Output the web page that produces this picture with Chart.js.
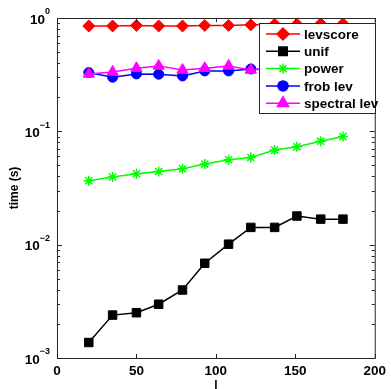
<!DOCTYPE html>
<html>
<head>
<meta charset="utf-8">
<script src="https://cdn.jsdelivr.net/npm/chart.js@4/dist/chart.umd.min.js"></script>
<style>
  body { margin: 0; background: #fff; }
  #wrap { width: 391px; height: 389px; position: relative; }
</style>
</head>
<body>
<div id="wrap"><canvas id="timing"></canvas></div>
<script>
// sample sizes l
const lValues = [20, 35, 50, 64, 79, 93, 108, 122, 137, 151, 166, 180];

// running time in seconds for each method
const levscore = [0.85, 0.85, 0.86, 0.85, 0.85, 0.86, 0.86, 0.87, 0.88, 0.88, 0.89, 0.89];
const unif = [0.00137, 0.00239, 0.00251, 0.00298, 0.00398, 0.00685, 0.0101, 0.0142, 0.0142, 0.0179, 0.0168, 0.0168];
const power = [0.0366, 0.0395, 0.0422, 0.0442, 0.0467, 0.0514, 0.0561, 0.0588, 0.0683, 0.0730, 0.0819, 0.0900];
const frobLev = [0.330, 0.300, 0.321, 0.319, 0.308, 0.341, 0.341, 0.355, 0.35, 0.36, 0.35, 0.36];
const spectralLev = [0.321, 0.334, 0.360, 0.378, 0.348, 0.360, 0.378, 0.348, 0.36, 0.37, 0.36, 0.37];

const xTicks = [0, 50, 100, 150, 200];
const yDecades = [-3, -2, -1, 0];

const FONT = "'Liberation Sans', Arial, Helvetica, sans-serif";

function series(label, values, color, style, radius, order, extra) {
    return Object.assign({
        label: label,
        data: lValues.map((l, i) => ({ x: l, y: values[i] })),
        borderColor: color,
        backgroundColor: color,
        pointBackgroundColor: color,
        pointBorderColor: color,
        borderWidth: 1.5,
        pointStyle: style,
        pointRadius: radius,
        pointBorderWidth: 1,
        tension: 0,
        order: order // later series painted over earlier ones
    }, extra || {});
}

// box, inward ticks, superscript labels, titles and legend in the usual matlab look
const matlabFrame = {
    id: 'matlabFrame',
    afterDatasetsDraw(chart) {
        const ctx = chart.ctx;
        const a = chart.chartArea;
        const xs = chart.scales.x;
        const ys = chart.scales.y;
        ctx.save();
        ctx.strokeStyle = '#262626';
        ctx.lineWidth = 1;

        // frame
        ctx.strokeRect(a.left + 0.5, a.top + 0.5, a.right - a.left, a.bottom - a.top);

        ctx.beginPath();
        // x ticks, bottom and top
        xTicks.forEach(v => {
            const px = Math.round(xs.getPixelForValue(v)) + 0.5;
            ctx.moveTo(px, a.bottom); ctx.lineTo(px, a.bottom - 4);
            ctx.moveTo(px, a.top); ctx.lineTo(px, a.top + 4);
        });
        // y ticks, major and minor, left and right
        yDecades.forEach(e => {
            for (let m = 1; m <= 9; m++) {
                const v = m * Math.pow(10, e);
                if (v > 1) break;
                const py = Math.round(ys.getPixelForValue(v)) + 0.5;
                const len = m === 1 ? 5 : 3;
                ctx.moveTo(a.left, py); ctx.lineTo(a.left + len, py);
                ctx.moveTo(a.right, py); ctx.lineTo(a.right - len, py);
            }
        });
        ctx.stroke();

        // y tick labels 10^e
        ctx.fillStyle = '#000';
        ctx.textBaseline = 'middle';
        yDecades.forEach(e => {
            const py = ys.getPixelForValue(Math.pow(10, e));
            const expo = e < 0 ? '\u2212' + (-e) : String(e);
            ctx.font = 'bold 9px ' + FONT;
            const ew = ctx.measureText(expo).width;
            ctx.textAlign = 'right';
            ctx.fillText(expo, 50, py - 6);
            ctx.font = 'bold 13.5px ' + FONT;
            ctx.fillText('10', 50 - ew, py + 2);
        });

        // axis titles
        ctx.font = 'bold 12px ' + FONT;
        ctx.textAlign = 'center';
        ctx.fillText('l', (a.left + a.right) / 2, 386);
        ctx.save();
        ctx.translate(15, (a.top + a.bottom) / 2);
        ctx.rotate(-Math.PI / 2);
        ctx.fillText('time (s)', 0, 0);
        ctx.restore();

        // legend box
        const box = { x: 259, y: 23, w: 116, h: 90 };
        ctx.fillStyle = '#fff';
        ctx.fillRect(box.x, box.y, box.w, box.h);
        ctx.strokeStyle = '#262626';
        ctx.strokeRect(box.x + 0.5, box.y + 0.5, box.w, box.h);

        chart.data.datasets.forEach((ds, i) => {
            const ry = 34 + i * 17.3;
            ctx.strokeStyle = ds.borderColor;
            ctx.fillStyle = ds.borderColor;
            ctx.lineWidth = 1.5;
            ctx.beginPath();
            ctx.moveTo(266, ry); ctx.lineTo(300, ry);
            ctx.stroke();
            Chart.helpers.drawPoint(ctx, {
                pointStyle: ds.pointStyle,
                radius: ds.pointRadius,
                rotation: 0,
                borderWidth: ds.pointStyle === 'star' ? 1.5 : 1
            }, 283, ry);
            ctx.fillStyle = '#000';
            ctx.font = 'bold 13.5px ' + FONT;
            ctx.textAlign = 'left';
            ctx.textBaseline = 'middle';
            ctx.fillText(ds.label, 304, ry + 1);
        });
        ctx.restore();
    }
};

new Chart(document.getElementById('timing'), {
    type: 'line',
    data: {
        datasets: [
            series('levscore', levscore, '#ff0000', 'rectRot', 6, 5),
            series('unif', unif, '#000000', 'rect', 6, 4),
            series('power', power, '#00ff00', 'star', 5, 3, { pointBorderWidth: 1.5 }),
            series('frob lev', frobLev, '#0000ff', 'circle', 5, 2),
            series('spectral lev', spectralLev, '#ff00ff', 'triangle', 6.5, 1)
        ]
    },
    options: {
        responsive: true,
        maintainAspectRatio: false,
        animation: false,
        layout: { padding: { top: 18, right: 12, left: 0, bottom: 0 } },
        plugins: { legend: { display: false }, tooltip: { enabled: false } },
        scales: {
            x: {
                type: 'linear',
                min: 0,
                max: 200,
                grid: { display: false, drawTicks: false },
                border: { display: false },
                afterBuildTicks: scale => { scale.ticks = xTicks.map(v => ({ value: v })); },
                afterFit: scale => { scale.height = 31; },
                ticks: {
                    padding: 5,
                    color: '#000',
                    font: { family: FONT, weight: 'bold', size: 13.5 }
                }
            },
            y: {
                type: 'logarithmic',
                min: 0.001,
                max: 1,
                grid: { display: false, drawTicks: false },
                border: { display: false },
                ticks: { display: false },
                afterFit: scale => { scale.width = 57; }
            }
        }
    },
    plugins: [matlabFrame]
});
</script>
</body>
</html>
